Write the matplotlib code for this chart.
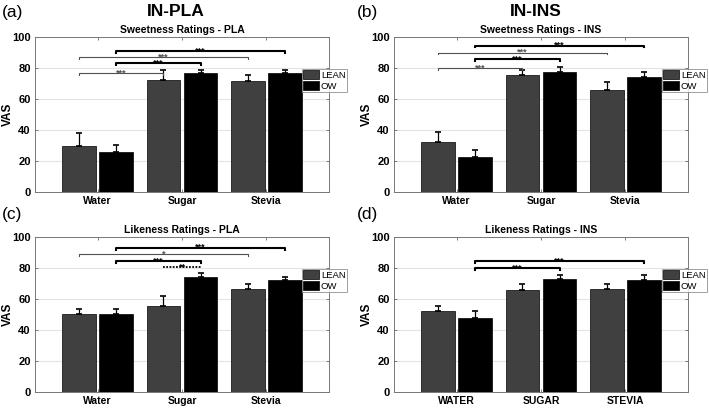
import matplotlib; matplotlib.use("Agg")
import matplotlib.pyplot as plt
import numpy as np

plt.rcParams["font.family"] = ["Liberation Sans", "DejaVu Sans"]

groups_lower = ["Water", "Sugar", "Stevia"]
groups_upper = ["WATER", "SUGAR", "STEVIA"]
series = ["LEAN", "OW"]
colors = {"LEAN": "#404040", "OW": "#000000"}

# bar means and upper error (SEM)
sweet_pla_lean = [30.0, 72.0, 71.5];  sweet_pla_lean_err = [8.0, 6.5, 4.0]
sweet_pla_ow   = [25.5, 76.5, 76.5];  sweet_pla_ow_err   = [5.0, 2.0, 2.0]
sweet_ins_lean = [32.0, 75.5, 66.0];  sweet_ins_lean_err = [7.0, 3.0, 5.0]
sweet_ins_ow   = [22.5, 77.5, 74.0];  sweet_ins_ow_err   = [4.5, 3.0, 3.5]
like_pla_lean  = [50.5, 55.5, 66.5];  like_pla_lean_err  = [3.0, 6.5, 3.5]
like_pla_ow    = [50.5, 74.0, 72.0];  like_pla_ow_err    = [3.0, 2.5, 2.0]
like_ins_lean  = [52.0, 65.5, 66.5];  like_ins_lean_err  = [3.5, 4.5, 3.0]
like_ins_ow    = [47.5, 73.0, 72.0];  like_ins_ow_err    = [4.5, 2.5, 3.5]

# significance comparisons: (group a, series a, group b, series b, label, height)
sig_a = [(0, "LEAN", 1, "LEAN", "***", 76.5), (0, "LEAN", 2, "LEAN", "***", 87),
         (0, "OW", 1, "OW", "***", 83), (0, "OW", 2, "OW", "***", 91)]
sig_b = [(0, "LEAN", 1, "LEAN", "***", 80), (0, "LEAN", 2, "LEAN", "***", 90),
         (0, "OW", 1, "OW", "***", 85.5), (0, "OW", 2, "OW", "***", 94.5)]
sig_c = [(0, "LEAN", 2, "LEAN", "*", 89), (0, "OW", 2, "OW", "***", 93),
         (0, "OW", 1, "OW", "***", 84.5), (1, "LEAN", 1, "OW", "**", 80.5)]
sig_d = [(0, "OW", 1, "OW", "***", 80), (0, "OW", 2, "OW", "***", 84.5)]

OFF = {"LEAN": -0.22, "OW": 0.22}
W = 0.40

def panel(rect, title, cats, lean, lean_e, ow, ow_e, sigs, legend_xy):
    ax = fig.add_axes(rect)
    x = np.arange(1, len(cats) + 1)
    for s, vals, err in (("LEAN", lean, lean_e), ("OW", ow, ow_e)):
        ax.bar(x + OFF[s], vals, W, color=colors[s], edgecolor="black", lw=0.5, label=s, zorder=2)
        ax.errorbar(x + OFF[s], vals, yerr=[np.zeros(len(vals)), err], fmt="none",
                    ecolor="black", elinewidth=0.9, capsize=2, capthick=1.2, zorder=3)
    for g1, s1, g2, s2, lab, h in sigs:
        x1, x2 = x[g1] + OFF[s1], x[g2] + OFF[s2]
        if s1 != s2:
            ax.plot([x1, x2], [h, h], color="black", lw=1.3, ls=(0, (1, 0.8)), zorder=4)
            c = "black"
        elif s1 == "LEAN":
            c = "#505050"
            ax.plot([x1, x1, x2, x2], [h - 1.2, h, h, h - 1.2], color=c, lw=0.8, zorder=4)
        else:
            c = "black"
            ax.plot([x1, x1, x2, x2], [h - 1.2, h, h, h - 1.2], color=c, lw=1.5, zorder=4)
        ax.text((x1 + x2) / 2, h - 1.4, lab, ha="center", va="baseline", fontsize=6.5,
                color=c, fontweight="bold", zorder=5)
    ax.set_xlim(0.26, 3.74)
    ax.set_ylim(0, 100)
    ax.set_yticks(range(0, 101, 20))
    ax.set_xticks(x)
    ax.set_xticklabels(cats, fontsize=7.5, fontweight="bold")
    for t in ax.get_yticklabels():
        t.set_fontsize(8); t.set_fontweight("bold")
    ax.tick_params(direction="in", top=True, right=True, length=2.5, width=0.6,
                   color="#666666", pad=3)
    ax.yaxis.grid(True, color="#e4e4e4", lw=0.8, zorder=0)
    ax.set_axisbelow(True)
    for sp in ax.spines.values():
        sp.set_color("#777777"); sp.set_linewidth(0.7)
    ax.set_ylabel("VAS", fontsize=8.5, fontweight="bold")
    ax.yaxis.set_label_coords(-0.072, 0.5)
    ax.set_title(title, fontsize=7.5, fontweight="bold", pad=3)
    leg = ax.legend(loc="upper left", bbox_to_anchor=legend_xy, bbox_transform=fig.transFigure,
                    fontsize=6.8, frameon=True, fancybox=False, handlelength=1.7, handleheight=1.1,
                    handletextpad=0.15, borderpad=0.15, labelspacing=0.1, borderaxespad=0)
    leg.get_frame().set_edgecolor("#888888")
    leg.get_frame().set_linewidth(0.7)
    return ax

fig = plt.figure(figsize=(7.09, 4.08), dpi=100)
W_AX, H_AX = 294 / 709, 155 / 408
panel([35 / 709, 1 - 192 / 408, W_AX, H_AX], "Sweetness Ratings - PLA", groups_lower,
      sweet_pla_lean, sweet_pla_lean_err, sweet_pla_ow, sweet_pla_ow_err, sig_a,
      (302 / 709, 1 - 69 / 408))
panel([394 / 709, 1 - 192 / 408, W_AX, H_AX], "Sweetness Ratings - INS", groups_lower,
      sweet_ins_lean, sweet_ins_lean_err, sweet_ins_ow, sweet_ins_ow_err, sig_b,
      (662 / 709, 1 - 69 / 408))
panel([35 / 709, 1 - 392 / 408, W_AX, H_AX], "Likeness Ratings - PLA", groups_lower,
      like_pla_lean, like_pla_lean_err, like_pla_ow, like_pla_ow_err, sig_c,
      (302 / 709, 1 - 269 / 408))
panel([394 / 709, 1 - 392 / 408, W_AX, H_AX], "Likeness Ratings - INS", groups_upper,
      like_ins_lean, like_ins_lean_err, like_ins_ow, like_ins_ow_err, sig_d,
      (662 / 709, 1 - 269 / 408))

fig.text(176 / 709, 1 - 11 / 408, "IN-PLA", fontsize=12.5, fontweight="bold", ha="center", va="center")
fig.text(536 / 709, 1 - 11 / 408, "IN-INS", fontsize=12.5, fontweight="bold", ha="center", va="center")
for lab, px, py in (("(a)", 2, 12), ("(b)", 357, 12), ("(c)", 2, 214), ("(d)", 357, 214)):
    fig.text(px / 709, 1 - py / 408, lab, fontsize=12.5, ha="left", va="center")

fig.savefig("out.png", dpi=100)
